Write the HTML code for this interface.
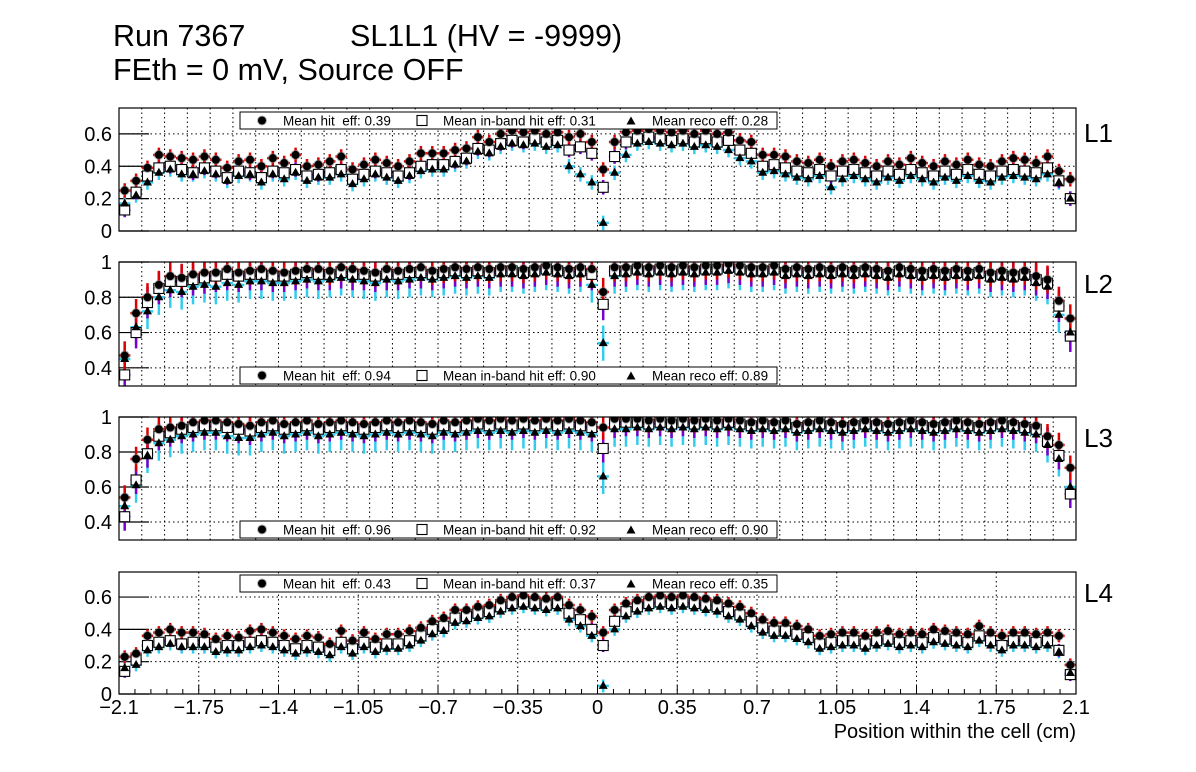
<!DOCTYPE html>
<html><head><meta charset="utf-8"><style>
html,body{margin:0;padding:0;background:#fff;}
svg{display:block;font-family:"Liberation Sans",Arial,sans-serif;}
</style></head><body>
<svg id="c" width="1196" height="772" viewBox="0 0 1196 772" xmlns="http://www.w3.org/2000/svg">
<text x="113" y="46" font-size="30.5">Run 7367</text>
<text x="350" y="46" font-size="30.5">SL1L1 (HV = -9999)</text>
<text x="113" y="80" font-size="30.5">FEth = 0 mV, Source OFF</text>
<text x="1076" y="738" font-size="20" text-anchor="end">Position within the cell (cm)</text>
</svg>
<script>
const xMin=-2.1, xMax=2.1, nBins=84;
const layerNames=["L1","L2","L3","L4"];
const meanHit=["0.39","0.94","0.96","0.43"];
const meanBand=["0.31","0.90","0.92","0.37"];
const meanReco=["0.28","0.89","0.90","0.35"];
const xTickLabels=["\u22122.1","\u22121.75","\u22121.4","\u22121.05","\u22120.7","\u22120.35","0","0.35","0.7","1.05","1.4","1.75","2.1"];
const xTickValues=[-2.1,-1.75,-1.4,-1.05,-0.7,-0.35,0,0.35,0.7,1.05,1.4,1.75,2.1];
const yTicksP1=[0,0.2,0.4,0.6];
const yTicksP2=[0.4,0.6,0.8,1];
const yTicksP3=[0.4,0.6,0.8,1];
const yTicksP4=[0,0.2,0.4,0.6];
const hitErr=[0.045,0.08,0.07,0.04];
const bandErr=[0.045,0.09,0.08,0.04];
const recoErr=[0.045,0.10,0.10,0.04];

const hitL1=[.25,.31,.39,.47,.46,.45,.44,.46,.44,.39,.43,.44,.40,.45,.42,.47,.40,.41,.43,.46,.38,.41,.44,.42,.40,.43,.48,.48,.48,.50,.51,.58,.55,.60,.62,.61,.62,.60,.61,.58,.60,.55,.38,.55,.61,.62,.63,.62,.61,.62,.60,.62,.60,.61,.56,.55,.47,.47,.46,.43,.42,.44,.40,.43,.44,.42,.40,.43,.41,.45,.42,.40,.43,.41,.44,.41,.40,.43,.45,.44,.42,.46,.37,.32];
const bandL1=[.13,.24,.34,.39,.40,.38,.36,.39,.37,.33,.37,.36,.33,.37,.36,.38,.34,.35,.36,.38,.32,.35,.37,.36,.34,.36,.40,.41,.41,.43,.45,.51,.50,.54,.56,.55,.57,.55,.56,.50,.52,.48,.27,.46,.55,.57,.58,.57,.56,.57,.55,.57,.55,.56,.50,.48,.40,.41,.39,.37,.36,.38,.34,.37,.38,.36,.34,.37,.35,.38,.36,.34,.37,.35,.38,.35,.34,.37,.38,.37,.36,.39,.31,.20];
const recoL1=[.17,.22,.30,.36,.38,.35,.35,.37,.35,.31,.34,.35,.30,.35,.32,.36,.31,.33,.33,.35,.29,.32,.35,.33,.31,.34,.37,.38,.38,.41,.43,.49,.48,.52,.54,.53,.54,.52,.53,.40,.35,.30,.05,.36,.47,.54,.55,.54,.53,.54,.52,.53,.52,.50,.45,.43,.36,.37,.35,.33,.32,.34,.27,.32,.34,.32,.30,.33,.31,.34,.32,.30,.33,.31,.34,.31,.30,.33,.34,.33,.32,.35,.30,.20];

const hitL2=[.47,.71,.80,.87,.92,.91,.93,.94,.94,.96,.94,.95,.96,.95,.94,.95,.96,.96,.95,.97,.96,.95,.94,.96,.95,.96,.97,.95,.96,.97,.96,.97,.96,.97,.97,.96,.97,.98,.97,.96,.97,.96,.83,.97,.97,.98,.97,.98,.97,.98,.97,.98,.98,.99,.98,.97,.97,.98,.96,.97,.96,.97,.96,.97,.96,.97,.96,.95,.97,.96,.95,.96,.95,.96,.95,.96,.94,.95,.94,.95,.92,.90,.78,.68];
const bandL2=[.36,.60,.77,.85,.89,.89,.90,.91,.92,.93,.92,.93,.93,.92,.92,.93,.94,.93,.93,.94,.93,.93,.92,.93,.93,.94,.94,.93,.94,.95,.94,.95,.94,.95,.95,.94,.95,.96,.95,.94,.95,.93,.76,.95,.95,.96,.95,.96,.95,.96,.95,.96,.96,.97,.96,.95,.95,.96,.94,.95,.94,.95,.94,.95,.94,.95,.94,.93,.95,.94,.93,.94,.93,.94,.93,.94,.92,.93,.92,.93,.90,.88,.75,.58];
const recoL2=[.45,.63,.72,.80,.84,.83,.86,.87,.86,.88,.87,.89,.89,.88,.88,.89,.90,.89,.90,.91,.90,.89,.88,.90,.89,.90,.91,.90,.91,.92,.91,.92,.91,.93,.93,.92,.93,.94,.93,.92,.93,.87,.54,.92,.93,.94,.93,.94,.93,.94,.93,.94,.94,.95,.94,.93,.93,.94,.92,.93,.92,.93,.92,.93,.92,.93,.92,.91,.93,.92,.91,.92,.91,.92,.91,.92,.90,.91,.90,.91,.88,.86,.70,.60];

const hitL3=[.54,.76,.87,.93,.94,.95,.97,.98,.98,.97,.96,.95,.97,.98,.96,.97,.98,.96,.97,.98,.97,.96,.97,.98,.97,.98,.97,.96,.98,.97,.98,.99,.98,.99,.98,.99,.98,.99,.98,.99,.98,.97,.94,.99,.99,.99,.98,.99,.98,.99,.98,.99,.98,.99,.98,.97,.98,.97,.98,.96,.97,.98,.97,.96,.97,.98,.97,.96,.97,.98,.97,.96,.97,.98,.97,.96,.97,.98,.97,.96,.95,.89,.84,.71];
const bandL3=[.43,.64,.79,.89,.91,.93,.94,.95,.95,.94,.93,.92,.94,.95,.93,.94,.95,.93,.94,.95,.94,.93,.94,.95,.94,.95,.94,.93,.95,.94,.95,.96,.95,.96,.95,.96,.95,.96,.95,.96,.95,.94,.82,.96,.97,.97,.96,.97,.96,.97,.96,.97,.96,.97,.96,.95,.96,.95,.96,.94,.95,.96,.95,.94,.95,.96,.95,.94,.95,.96,.95,.94,.95,.96,.95,.94,.95,.96,.95,.94,.93,.86,.78,.56];
const recoL3=[.49,.61,.78,.85,.87,.89,.90,.91,.91,.89,.88,.88,.90,.91,.89,.90,.91,.89,.90,.91,.90,.89,.90,.91,.90,.91,.90,.89,.91,.90,.91,.92,.91,.92,.91,.92,.91,.92,.91,.92,.91,.90,.66,.93,.93,.94,.93,.94,.93,.94,.93,.94,.93,.94,.93,.92,.93,.92,.93,.91,.92,.93,.92,.91,.92,.93,.92,.91,.92,.93,.92,.91,.92,.93,.92,.91,.92,.93,.92,.91,.90,.84,.76,.60];

const hitL4=[.23,.25,.36,.38,.40,.38,.38,.37,.34,.36,.35,.39,.40,.38,.36,.34,.36,.35,.31,.39,.33,.38,.34,.37,.37,.39,.41,.45,.47,.52,.52,.54,.55,.58,.60,.61,.60,.59,.60,.55,.52,.48,.38,.52,.56,.58,.60,.61,.60,.61,.60,.59,.58,.56,.54,.50,.46,.44,.44,.42,.40,.36,.37,.38,.38,.36,.38,.39,.37,.38,.37,.40,.39,.38,.37,.42,.38,.36,.38,.38,.37,.38,.36,.18];
const bandL4=[.14,.21,.30,.32,.33,.31,.32,.32,.29,.30,.30,.32,.33,.32,.30,.28,.30,.29,.27,.32,.28,.32,.29,.31,.31,.33,.36,.40,.42,.47,.48,.50,.51,.54,.56,.57,.56,.55,.56,.50,.46,.40,.30,.45,.51,.54,.56,.57,.56,.57,.56,.55,.54,.51,.49,.45,.41,.39,.39,.37,.35,.31,.32,.33,.33,.31,.33,.34,.32,.33,.32,.35,.34,.33,.32,.36,.33,.30,.33,.33,.32,.33,.27,.12];
const recoL4=[.16,.18,.27,.29,.31,.29,.29,.29,.26,.27,.27,.29,.30,.29,.27,.25,.27,.26,.24,.29,.25,.29,.26,.28,.28,.30,.33,.37,.39,.44,.45,.47,.48,.51,.53,.54,.53,.52,.53,.46,.42,.36,.05,.40,.48,.51,.53,.54,.53,.54,.53,.52,.51,.48,.46,.42,.38,.36,.36,.34,.32,.28,.29,.30,.30,.28,.30,.31,.29,.30,.29,.32,.31,.30,.29,.33,.30,.27,.30,.30,.29,.30,.26,.13];

const NS="http://www.w3.org/2000/svg";
const svg=document.getElementById('c');
const FL=119, FR=1076;
const panels=[
 {top:108,bot:231,ymin:0,ymax:0.76,ticks:yTicksP1,hit:hitL1,band:bandL1,reco:recoL1,legY:112,labY:132},
 {top:262,bot:386,ymin:0.297,ymax:1.0,ticks:yTicksP2,hit:hitL2,band:bandL2,reco:recoL2,legY:367,labY:283},
 {top:417,bot:540,ymin:0.297,ymax:1.0,ticks:yTicksP3,hit:hitL3,band:bandL3,reco:recoL3,legY:521,labY:437},
 {top:572,bot:694,ymin:0,ymax:0.755,ticks:yTicksP4,hit:hitL4,band:bandL4,reco:recoL4,legY:575,labY:592}
];
function mk(tag,attrs,parent){const e=document.createElementNS(NS,tag);for(const k in attrs)e.setAttribute(k,attrs[k]);(parent||svg).appendChild(e);return e;}
function xs(v){return FL+(v-xMin)/(xMax-xMin)*(FR-FL);}
const bw=(FR-FL)/nBins;

function circle(g,x,y){mk('circle',{cx:x,cy:y,r:5,fill:'#777',opacity:0.55},g);mk('circle',{cx:x,cy:y,r:4,fill:'#000'},g);}
function square(g,x,y){mk('rect',{x:x-5,y:y-5,width:10,height:10,fill:'#fff',stroke:'#000','stroke-width':1.1},g);}
function tri(g,x,y){mk('polygon',{points:`${x},${y-5} ${x-4.5},${y+3} ${x+4.5},${y+3}`,fill:'#000'},g);}

panels.forEach((p,pi)=>{
 const ys=v=>p.bot-(v-p.ymin)/(p.ymax-p.ymin)*(p.bot-p.top);
 const g=mk('g',{});
 
 
 const cid='clip'+pi;
 const cp=mk('clipPath',{id:cid},g);mk('rect',{x:FL,y:p.top,width:FR-FL,height:p.bot-p.top},cp);
 const grid=mk('g',{stroke:'#000','stroke-width':1,'stroke-dasharray':'1.5,3'},g);
 
 
 if(pi<3){for(let k=1;k<42;k++){const x=xs(xMin+k*0.1);mk('line',{x1:x,x2:x,y1:p.top,y2:p.bot},grid);}}
 else{for(let k=1;k<xTickValues.length-1;k++){const x=xs(xTickValues[k]);mk('line',{x1:x,x2:x,y1:p.top,y2:p.bot},grid);}}
 p.ticks.forEach(t=>{const y=ys(t);if(y>p.top+1&&y<p.bot-1)mk('line',{x1:FL,x2:FR,y1:y,y2:y},grid);});
 p.ticks.forEach(t=>{const y=ys(t);
  mk('line',{x1:FL,x2:FL+30,y1:y,y2:y,stroke:'#000','stroke-width':1.2},g);
  const tl=mk('text',{x:112,y:y+7,'font-size':20,'text-anchor':'end'},g);tl.textContent=String(t);
  
  
 });
 const data=mk('g',{'clip-path':`url(#${cid})`},g);
 
 
 const series=[[p.reco,recoErr[pi],'#33ccee'],[p.band,bandErr[pi],'#7a00cc'],[p.hit,hitErr[pi],'#dd0000']];
 series.forEach(([arr,err,col])=>{
  for(let i=0;i<nBins;i++){const x=xs(xMin+(i+0.5)*0.05);const y=ys(arr[i]);
   mk('line',{x1:x,x2:x,y1:ys(arr[i]+err),y2:ys(arr[i]-err),stroke:col,'stroke-width':2.5},data);
   mk('line',{x1:x-bw/2,x2:x+bw/2,y1:y,y2:y,stroke:col,'stroke-width':2.5},data);}
 });
 for(let i=0;i<nBins;i++){const x=xs(xMin+(i+0.5)*0.05);square(data,x,ys(p.band[i]));}
 for(let i=0;i<nBins;i++){const x=xs(xMin+(i+0.5)*0.05);circle(data,x,ys(p.hit[i]));}
 for(let i=0;i<nBins;i++){const x=xs(xMin+(i+0.5)*0.05);tri(data,x,ys(p.reco[i]));}
 const fr=mk('rect',{x:FL,y:p.top,width:FR-FL,height:p.bot-p.top,fill:'none',stroke:'#000','stroke-width':1.2},g);
 
 
 const lg=mk('g',{},g);
 
 
 mk('rect',{x:240,y:p.legY,width:537,height:17,fill:'#fff',stroke:'#000','stroke-width':1},lg);
 const cy=p.legY+8.5;
 circle(lg,262,cy);square(lg,422,cy);tri(lg,631,cy+1);
 [[283,'Mean hit\u00a0\u00a0eff: '+meanHit[pi]],[443,'Mean in-band hit eff: '+meanBand[pi]],[652,'Mean reco eff: '+meanReco[pi]]].forEach(([x,s])=>{
  const t=mk('text',{x:x,y:cy+5,'font-size':13.5},lg);t.textContent=s;
  
  
 });
 const lab=mk('text',{x:1084,y:p.labY+10,'font-size':26},g);lab.textContent=layerNames[pi];
 
 
 if(pi===3){
  for(let k=0;k<=60;k++){const x=xs(xMin+k*0.07);const major=k%5===0;
   mk('line',{x1:x,x2:x,y1:p.bot,y2:p.bot-(major?9:5),stroke:'#000','stroke-width':1},g);}
  xTickValues.forEach((v,k)=>{const t=mk('text',{x:xs(v),y:714,'font-size':20,'text-anchor':'middle'},g);t.textContent=xTickLabels[k];
   
   });
 }
});
</script>
</body></html>
